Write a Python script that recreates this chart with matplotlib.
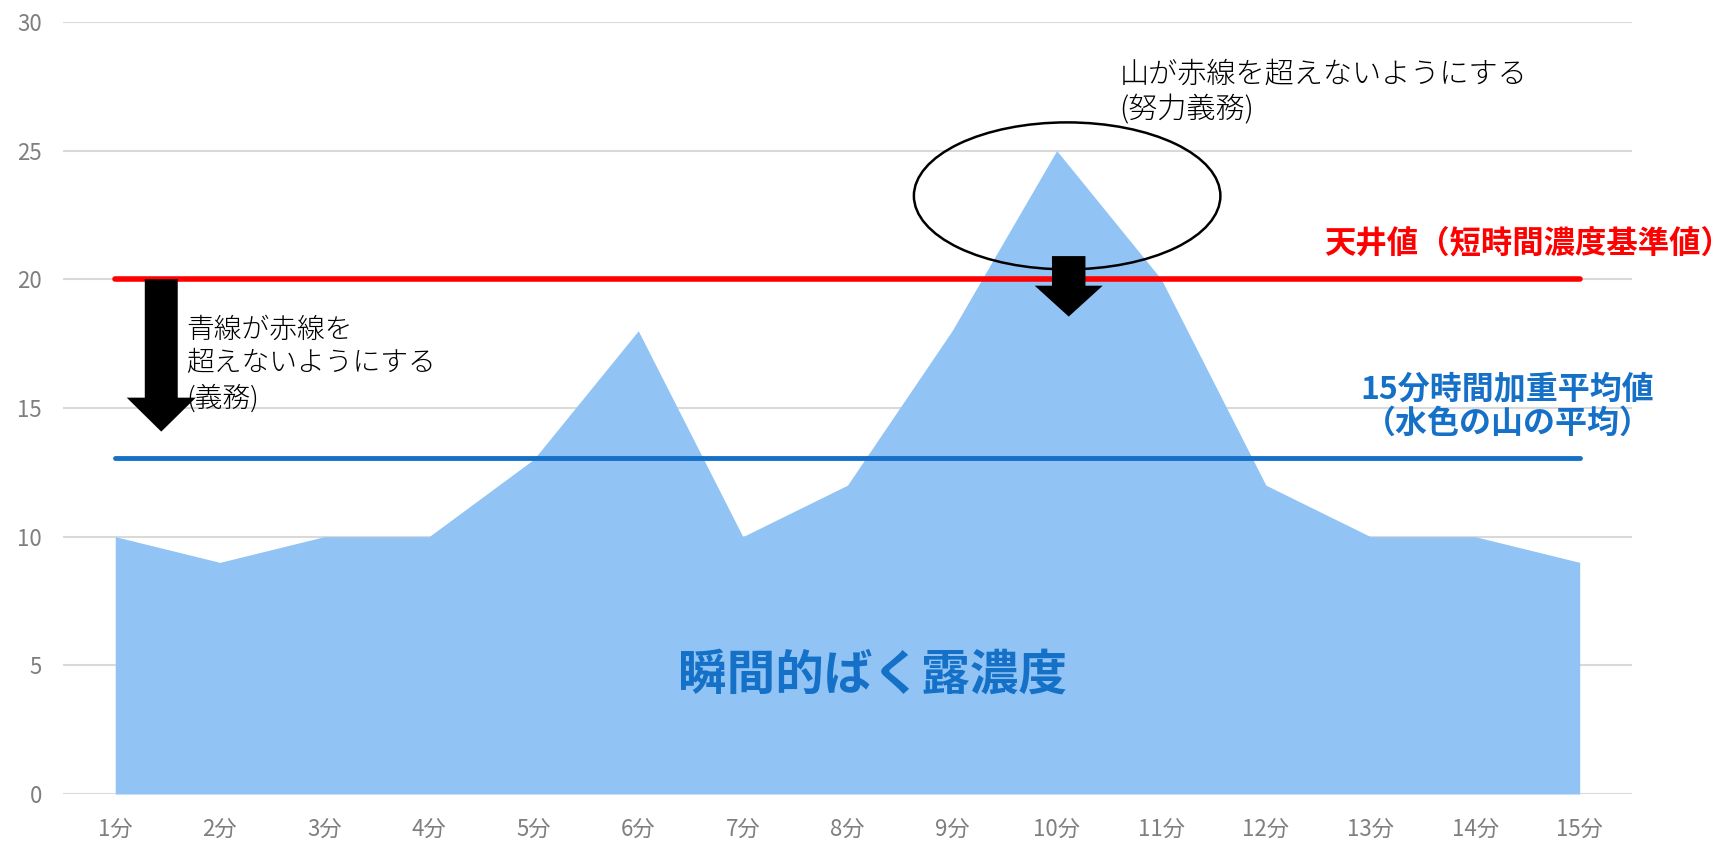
import numpy as np
import matplotlib.pyplot as plt
from matplotlib.patches import Ellipse, FancyArrow

plt.rcParams['font.family'] = ['Noto Sans CJK JP', 'DejaVu Sans']

# 1分ごとの瞬間的ばく露濃度
minutes = ['1分', '2分', '3分', '4分', '5分', '6分', '7分', '8分',
           '9分', '10分', '11分', '12分', '13分', '14分', '15分']
conc = [10, 9, 10, 10, 13, 18, 10, 12, 18, 25, 20, 12, 10, 10, 9]
ceiling = 20                # 天井値
twa = np.mean(conc)         # 15分時間加重平均値

x = np.arange(1, len(minutes) + 1)

fig = plt.figure(figsize=(17.29, 8.42), dpi=100)
ax = fig.add_axes([0.0364, 0.057, 0.9075, 0.917])

# 水色の山
ax.fill_between(x, conc, 0, color='#91C4F4', lw=0, zorder=1)

# 天井値と平均値の線
ax.plot([x[0], x[-1]], [ceiling, ceiling], color='#FF0000', lw=4,
        solid_capstyle='round', zorder=3)
ax.plot([x[0], x[-1]], [twa, twa], color='#1570C8', lw=3.5,
        solid_capstyle='round', zorder=3)

# 軸
ax.set_xlim(0.5, len(minutes) + 0.5)
ax.set_ylim(0, 30)
ax.set_yticks(np.arange(0, 31, 5))
ax.set_xticks(x)
ax.set_xticklabels(minutes)
ax.tick_params(length=0, labelsize=16, labelcolor='#7F7F7F')
ax.tick_params(axis='y', pad=15)
ax.tick_params(axis='x', pad=17)
ax.grid(axis='y', color='#D9D9D9', lw=1.5)
ax.set_axisbelow(True)
for s in ax.spines.values():
    s.set_visible(False)

# ラベル
ax.text(12.56, 21.35, '天井値（短時間濃度基準値）', color='#FF0000',
        fontsize=22.6, fontweight='bold', ha='left', va='center')
ax.text(14.31, 15.05, '15分時間加重平均値\n（水色の山の平均）', color='#1570C8',
        fontsize=23, fontweight='bold', ha='center', va='center',
        linespacing=1.1)
ax.text(8.24, 4.62, '瞬間的ばく露濃度', color='#1570C8',
        fontsize=35, fontweight='bold', ha='center', va='center')

ax.text(1.68, 18.6, '青線が赤線を\n超えないようにする\n(義務)', color='black',
        fontsize=20, fontweight='light', ha='left', va='top', linespacing=1.28)
ax.text(10.6, 28.55, '山が赤線を超えないようにする\n(努力義務)', color='black',
        fontsize=21, fontweight='light', ha='left', va='top', linespacing=1.22)

# 矢印と楕円
ax.add_patch(FancyArrow(1.44, 20, 0, -5.92, width=0.315, head_width=0.66,
                        head_length=1.32, length_includes_head=True,
                        color='black', lw=0, zorder=5))
ax.add_patch(FancyArrow(10.115, 20.9, 0, -2.35, width=0.32, head_width=0.65,
                        head_length=1.2, length_includes_head=True,
                        color='black', lw=0, zorder=5))
ax.add_patch(Ellipse((10.1, 23.24), width=2.93, height=5.71, fill=False,
                     ec='black', lw=1.8, zorder=4))

fig.savefig('out.png', dpi=100)
